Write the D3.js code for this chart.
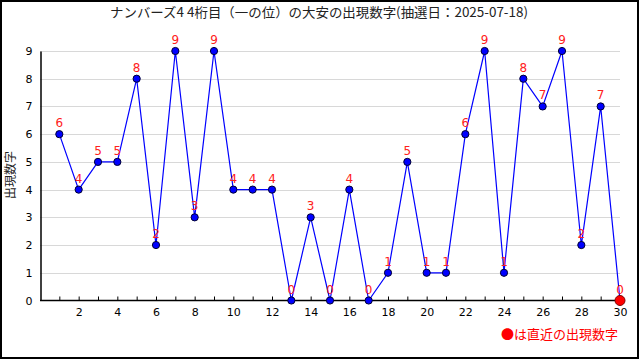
<!DOCTYPE html>
<html><head><meta charset="utf-8">
<script src="https://cdn.jsdelivr.net/npm/d3@7"></script>
<style>body{margin:0;background:#fff}svg{display:block}</style>
</head><body>
<svg id="c" width="640" height="360"></svg>
<script>
const titleText = "ナンバーズ4 4桁目（一の位）の大安の出現数字(抽選日：2025-07-18)";
const draws = d3.range(1, 31);
const values = [6,4,5,5,8,2,9,3,9,4,4,4,0,3,0,4,0,1,5,1,1,6,9,1,8,7,9,2,7,0];
const yTicks = [0,1,2,3,4,5,6,7,8,9];
const xLabelTicks = [2,4,6,8,10,12,14,16,18,20,22,24,26,28,30];
const yTitle = "出現数字";
const legendText = "●は直近の出現数字";

const svg = d3.select("#c");
const font = "'DejaVu Sans', sans-serif";
const jp = "'Noto Sans CJK JP', sans-serif";
const x = d3.scaleLinear().domain([0, 30]).range([40, 620]);
const y = d3.scaleLinear().domain([0, 9]).range([300.5, 51]);

svg.append("rect").attr("x",1).attr("y",1).attr("width",637).attr("height",357)
  .attr("fill","#fff").attr("stroke","#000").attr("stroke-width",2);

svg.append("text").attr("x",110).attr("y",17)
  .attr("textLength",418).attr("lengthAdjust","spacingAndGlyphs")
  .attr("font-family",jp).attr("font-size",13).attr("fill","#222").text(titleText);

// gridlines
svg.append("g").selectAll("line").data(yTicks.filter(d=>d>0)).join("line")
  .attr("x1",40).attr("x2",620).attr("y1",d=>Math.round(y(d))+0.5).attr("y2",d=>Math.round(y(d))+0.5)
  .attr("stroke","#d8d8d8").attr("stroke-width",1);

// y axis
const ya = svg.append("g").attr("transform","translate(40.5,0)")
  .call(d3.axisLeft(y).tickValues(yTicks).tickSize(0).tickPadding(8).tickFormat(d3.format("d")));
ya.select(".domain").attr("stroke","#000").attr("stroke-width",1.5);
ya.selectAll("text").attr("font-family",font).attr("font-size",11).attr("fill","#000");

// x axis
const xa = svg.append("g").attr("transform","translate(0,300.5)")
  .call(d3.axisTop(x).tickValues(draws).tickSize(4).tickFormat(""));
xa.select(".domain").attr("stroke","#000").attr("stroke-width",1.5).attr("d","M40,0H623");
xa.selectAll(".tick line").attr("stroke","#000");
const xl = svg.append("g").attr("transform","translate(0,300.5)")
  .call(d3.axisBottom(x).tickValues(xLabelTicks).tickSize(0).tickPadding(8).tickFormat(d3.format("d")));
xl.select(".domain").remove();
xl.selectAll("text").attr("font-family",font).attr("font-size",11).attr("fill","#000");

// y title
svg.append("text").attr("transform","translate(15,175) rotate(-90)").attr("text-anchor","middle")
  .attr("font-family",jp).attr("font-size",12).attr("fill","#222").text(yTitle);

// line
const data = draws.map((d,i)=>({d, v: values[i]}));
svg.append("path").datum(data)
  .attr("d", d3.line().x(p=>x(p.d)).y(p=>y(p.v)))
  .attr("fill","none").attr("stroke","#0000ff").attr("stroke-width",1.2);

// points
svg.append("g").selectAll("circle").data(data).join("circle")
  .attr("cx",p=>x(p.d)).attr("cy",p=>y(p.v))
  .attr("r",(p,i)=> i===data.length-1 ? 5 : 3.6)
  .attr("fill",(p,i)=> i===data.length-1 ? "#ff0000" : "#0000ff")
  .attr("stroke",(p,i)=> i===data.length-1 ? "#800000" : "#000033").attr("stroke-width",1);

// labels
svg.append("g").selectAll("text").data(data).join("text")
  .attr("x",p=>x(p.d)).attr("y",p=>y(p.v)-7).attr("text-anchor","middle")
  .attr("font-family",font).attr("font-size",12).attr("fill","#ff2020").text(p=>p.v);

// legend
svg.append("text").attr("x",618).attr("y",339).attr("text-anchor","end")
  .attr("font-family",jp).attr("font-size",13).attr("fill","#ff0000").text(legendText);
</script>
</body></html>
